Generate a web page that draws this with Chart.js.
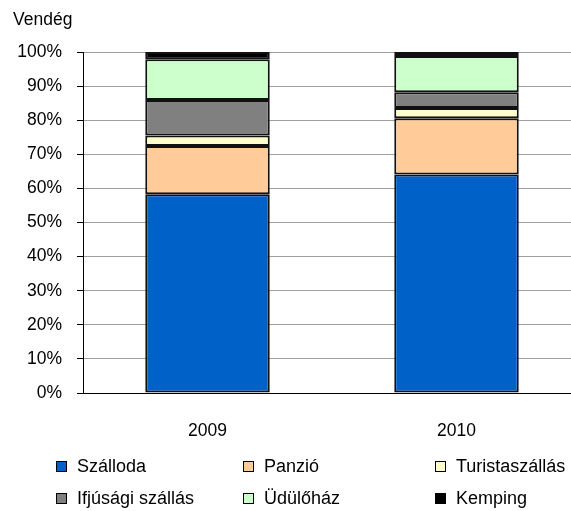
<!DOCTYPE html>
<html>
<head>
<meta charset="utf-8">
<script src="https://cdn.jsdelivr.net/npm/chart.js@4"></script>
<style>
  body { margin: 0; overflow: hidden; background: #fff; font-family: "Liberation Sans", Arial, sans-serif; }
  #wrap { position: relative; width: 585px; height: 511px; }
  #title { position: absolute; left: 13px; top: 9px; font-size: 17.5px; color: #000; }
  .leg { position: absolute; font-size: 18px; color: #000; white-space: nowrap; line-height: 20px; }
  .leg span { display: inline-block; width: 9px; height: 9px; border: 1.5px solid #000; vertical-align: middle; margin-right: 10px; position: relative; top: -1px; }
</style>
</head>
<body>
<div id="wrap">
  <canvas id="myChart" width="585" height="511"></canvas>
  <div id="title">Vendég</div>
  <div id="legend"></div>
</div>
<script>
const years = ['2009', '2010'];
const seriesNames = ['Szálloda', 'Panzió', 'Turistaszállás', 'Ifjúsági szállás', 'Üdülőház', 'Kemping'];
const szalloda = [58.3, 64.1];
const panzio = [14.1, 16.5];
const turista = [3.1, 3.0];
const ifjusagi = [10.4, 4.6];
const udulo = [12.0, 10.6];
const kemping = [2.1, 1.2];
const colors = ['#0062C8', '#FFCC99', '#FFFFCC', '#808080', '#CCFFCC', '#000000'];

const values = [szalloda, panzio, turista, ifjusagi, udulo, kemping];

const datasets = seriesNames.map((name, i) => ({
  label: name,
  data: values[i],
  backgroundColor: colors[i],
  borderColor: '#111',
  borderWidth: 2,
  borderSkipped: false,
  categoryPercentage: 1,
  barPercentage: 0.5
}));

const ctx = document.getElementById('myChart').getContext('2d');
new Chart(ctx, {
  type: 'bar',
  data: { labels: years, datasets: datasets },
  options: {
    responsive: false,
    animation: false,
    layout: { padding: { top: 52, left: 0, right: 4, bottom: 68 } },
    plugins: { legend: { display: false }, tooltip: { enabled: false } },
    scales: {
      x: {
        stacked: true,
        grid: { display: false, drawTicks: false },
        border: { display: true, color: '#000', width: 1 },
        ticks: { color: '#000', padding: 28, font: { family: 'Liberation Sans', size: 17.5 } },
        afterFit: (s) => { s.height = 50; }
      },
      y: {
        stacked: true,
        min: 0,
        max: 100,
        grid: { color: '#A0A0A0', tickColor: '#000', tickLength: 6, lineWidth: 1 },
        border: { display: true, color: '#000', width: 1 },
        ticks: {
          stepSize: 10,
          color: '#000',
          padding: 15,
          font: { family: 'Liberation Sans', size: 17.5 },
          callback: (v) => v + '%'
        },
        afterFit: (s) => { s.width = 83; }
      }
    }
  }
});

// legend in three columns, two rows
const legendX = [56, 243, 435];
const legendY = [456, 488];
const legend = document.getElementById('legend');
seriesNames.forEach((name, i) => {
  const d = document.createElement('div');
  d.className = 'leg';
  d.style.left = legendX[i % 3] + 'px';
  d.style.top = legendY[Math.floor(i / 3)] + 'px';
  d.innerHTML = '<span style="background:' + colors[i] + '"></span>' + name;
  legend.appendChild(d);
});
</script>
</body>
</html>
